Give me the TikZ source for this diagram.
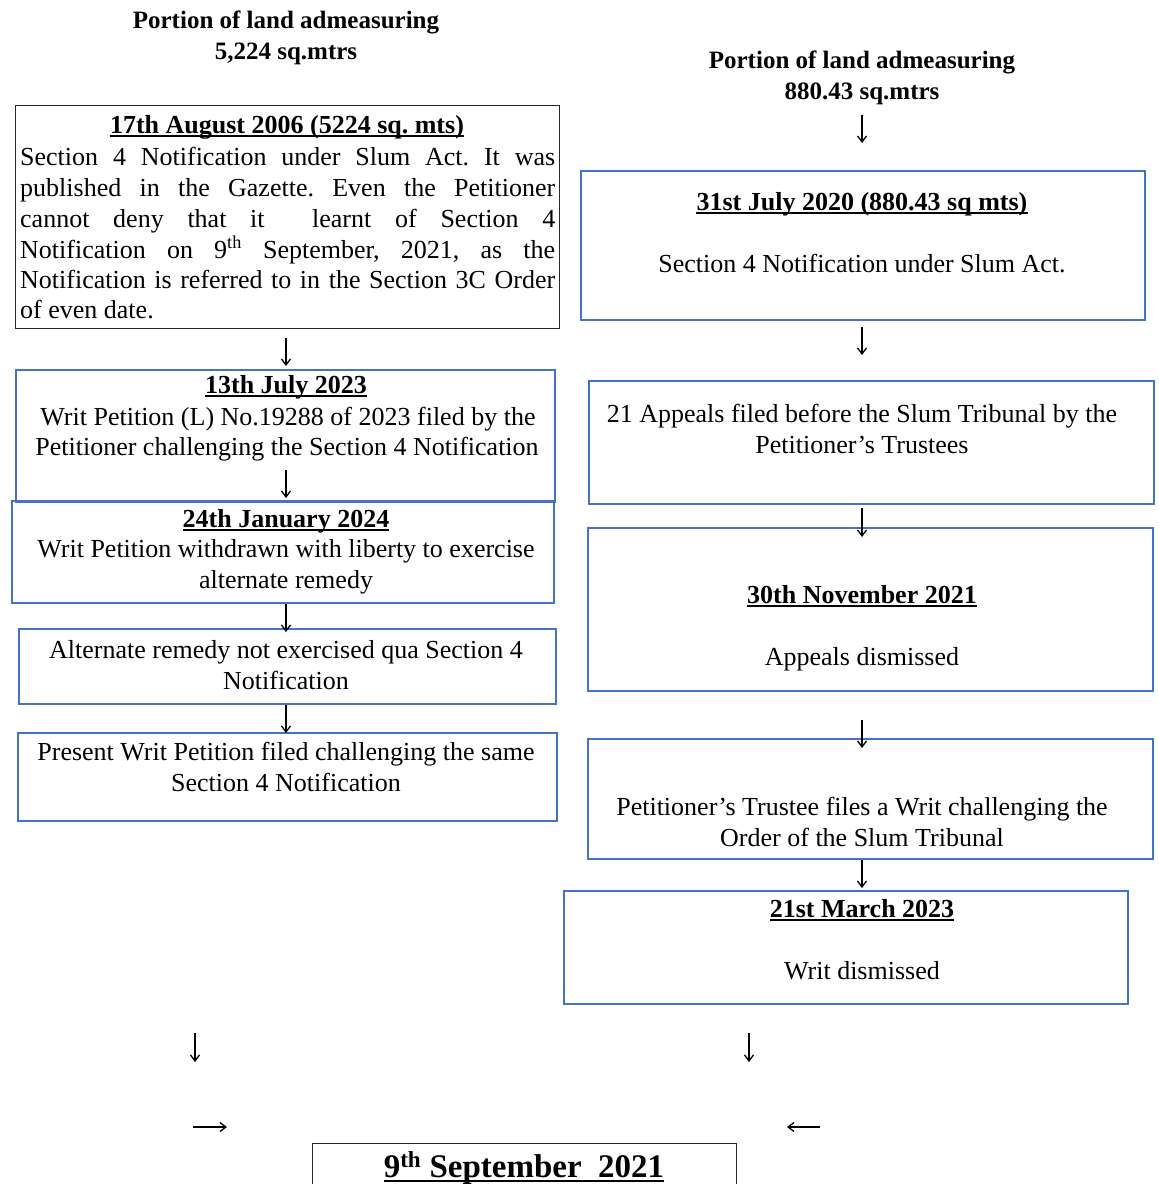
\documentclass[tikz,border=0pt]{standalone}
\usepackage{fontspec}
\setmainfont{Liberation Serif}
\usetikzlibrary{arrows.meta}
\definecolor{boxblue}{RGB}{68,114,196}
\frenchspacing
\begin{document}
\begin{tikzpicture}[x=1pt,y=-1pt,
  txt/.style={inner sep=0pt, anchor=base, font=\fontsize{26}{31}\selectfont},
  hd/.style={inner sep=0pt, anchor=base, font=\fontsize{26}{31}\selectfont\bfseries},
  bigtitle/.style={inner sep=0pt, anchor=base, font=\fontsize{25}{31}\selectfont\bfseries},
  box/.style={inner sep=0pt, anchor=north west},
  bluebox/.style={box, draw=boxblue, line width=1.8pt},
  blackbox/.style={box, draw=black!85, line width=1.2pt},
  ul/.style={line width=1.1pt},
  arr/.style={line width=1.3pt, -{Straight Barb[length=6pt,width=9pt]}}]
\clip (0,0) rectangle (1159,1184);

% ---------- titles ----------
\node[bigtitle] (tl1) at (286,28) {Portion of land admeasuring};
\node[bigtitle] (tl2) at (286,59) {5,224 sq.mtrs};
\node[bigtitle] (tr1) at (862,68) {Portion of land admeasuring};
\node[bigtitle] (tr2) at (862,99) {880.43 sq.mtrs};

% ---------- boxes ----------
\node[blackbox, minimum width=544pt, minimum height=223pt] (l1) at (15,105) {};
\node[bluebox, minimum width=539pt, minimum height=132pt] (l2) at (15,369) {};
\node[bluebox, minimum width=542pt, minimum height=102pt] (l3) at (11,500) {};
\node[bluebox, minimum width=537pt, minimum height=75pt] (l4) at (18,628) {};
\node[bluebox, minimum width=539pt, minimum height=88pt] (l5) at (17,732) {};
\node[bluebox, minimum width=564pt, minimum height=149pt] (r1) at (580,170) {};
\node[bluebox, minimum width=565pt, minimum height=123pt] (r2) at (588,380) {};
\node[bluebox, minimum width=565pt, minimum height=163pt] (r3) at (587,527) {};
\node[bluebox, minimum width=565pt, minimum height=120pt] (r4) at (587,738) {};
\node[bluebox, minimum width=564pt, minimum height=113pt] (r5) at (563,890) {};
\node[blackbox, minimum width=424pt, minimum height=80pt] (bb) at (312,1143) {};

% ---------- L1 text ----------
\node[hd] (l1h) at (287,133) {17th August 2006 (5224 sq. mts)};
\draw[ul] ([yshift=-3pt]l1h.base west) -- ([yshift=-3pt]l1h.base east);
\node[txt, anchor=base west] (l1a) at (20,165) {\makebox[535pt][s]{Section 4 Notification under Slum Act. It was}};
\node[txt, anchor=base west] (l1b) at (20,196) {\makebox[535pt][s]{published in the Gazette. Even the Petitioner}};
\node[txt, anchor=base west] (l1c) at (20,227) {\makebox[535pt][s]{cannot deny that it \ learnt of Section 4}};
\node[txt, anchor=base west] (l1d) at (20,258) {\makebox[535pt][s]{Notification on 9\textsuperscript{th} September, 2021, as the}};
\node[txt, anchor=base west] (l1e) at (20,288) {\makebox[535pt][s]{Notification is referred to in the Section 3C Order}};
\node[txt, anchor=base west] (l1f) at (20,318) {of even date.};

% ---------- L2 ----------
\node[hd] (l2h) at (286,393) {13th July 2023};
\draw[ul] ([yshift=-3pt]l2h.base west) -- ([yshift=-3pt]l2h.base east);
\node[txt] (l2a) at (288,425) {Writ Petition (L) No.19288 of 2023 filed by the};
\node[txt] (l2b) at (287,455) {Petitioner challenging the Section 4 Notification};

% ---------- L3 ----------
\node[hd] (l3h) at (286,527) {24th January 2024};
\draw[ul] ([yshift=-3pt]l3h.base west) -- ([yshift=-3pt]l3h.base east);
\node[txt] (l3a) at (286,557) {Writ Petition withdrawn with liberty to exercise};
\node[txt] (l3b) at (286,588) {alternate remedy};

% ---------- L4 ----------
\node[txt] (l4a) at (286,658) {Alternate remedy not exercised qua Section 4};
\node[txt] (l4b) at (286,689) {Notification};

% ---------- L5 ----------
\node[txt] (l5a) at (286,760) {Present Writ Petition filed challenging the same};
\node[txt] (l5b) at (286,791) {Section 4 Notification};

% ---------- R1 ----------
\node[hd] (r1h) at (862,210) {31st July 2020 (880.43 sq mts)};
\draw[ul] ([yshift=-3pt]r1h.base west) -- ([yshift=-3pt]r1h.base east);
\node[txt] (r1a) at (862,272) {Section 4 Notification under Slum Act.};

% ---------- R2 ----------
\node[txt] (r2a) at (862,422) {21 Appeals filed before the Slum Tribunal by the};
\node[txt] (r2b) at (862,453) {Petitioner’s Trustees};

% ---------- R3 ----------
\node[hd] (r3h) at (862,603) {30th November 2021};
\draw[ul] ([yshift=-3pt]r3h.base west) -- ([yshift=-3pt]r3h.base east);
\node[txt] (r3a) at (862,665) {Appeals dismissed};

% ---------- R4 ----------
\node[txt] (r4a) at (862,815) {Petitioner’s Trustee files a Writ challenging the};
\node[txt] (r4b) at (862,846) {Order of the Slum Tribunal};

% ---------- R5 ----------
\node[hd] (r5h) at (862,917) {21st March 2023};
\draw[ul] ([yshift=-3pt]r5h.base west) -- ([yshift=-3pt]r5h.base east);
\node[txt] (r5a) at (862,979) {Writ dismissed};

% ---------- bottom ----------
\node[inner sep=0pt, anchor=base, font=\fontsize{33}{40}\selectfont\bfseries] (bt) at (524,1177) {9\textsuperscript{th} September\ \ 2021};
\draw[ul] ([yshift=-4pt]bt.base west) -- ([yshift=-4pt]bt.base east);

% ---------- arrows ----------
\coordinate (a1s) at (862,115); \coordinate (a1e) at (862,143);
\coordinate (a2s) at (286,338); \coordinate (a2e) at (286,366);
\coordinate (a3s) at (862,327); \coordinate (a3e) at (862,355);
\coordinate (a4s) at (286,470); \coordinate (a4e) at (286,498);
\coordinate (a5s) at (862,508); \coordinate (a5e) at (862,537);
\coordinate (a6s) at (286,604); \coordinate (a6e) at (286,632);
\coordinate (a7s) at (286,705); \coordinate (a7e) at (286,733);
\coordinate (a8s) at (862,720); \coordinate (a8e) at (862,748);
\coordinate (a9s) at (862,860); \coordinate (a9e) at (862,888);
\coordinate (b1s) at (195,1033); \coordinate (b1e) at (195,1062);
\coordinate (b2s) at (749,1033); \coordinate (b2e) at (749,1062);
\coordinate (h1s) at (193,1127); \coordinate (h1e) at (227,1127);
\coordinate (h2s) at (820,1127); \coordinate (h2e) at (787,1127);
\foreach \a in {a1,a2,a3,a4,a5,a6,a7,a8,a9,b1,b2,h1,h2}
  \draw[arr] (\a s) -- (\a e);
\end{tikzpicture}
\end{document}
